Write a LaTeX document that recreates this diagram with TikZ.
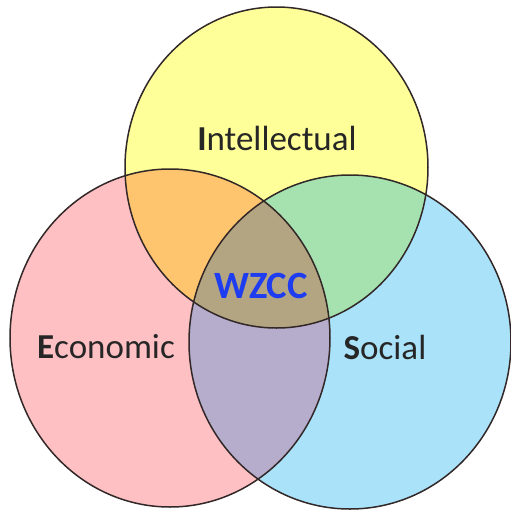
\documentclass[tikz,border=0pt]{standalone}
\usepackage{fontspec}
\setmainfont{Carlito}
\definecolor{intelfill}{RGB}{255,255,153}
\definecolor{econfill}{RGB}{255,192,196}
\definecolor{socfill}{RGB}{170,226,250}
\definecolor{iefill}{RGB}{255,196,110}
\definecolor{isfill}{RGB}{165,226,175}
\definecolor{esfill}{RGB}{182,172,204}
\definecolor{allfill}{RGB}{180,165,130}
\definecolor{ringcol}{RGB}{50,40,40}
\definecolor{wzccblue}{RGB}{30,60,240}
\tikzset{
  ring/.style={draw=ringcol, line width=0.75pt},
  vennname/.style={text=black!85, font=\fontsize{17.5}{20}\selectfont},
}
\newcommand{\intelshape}{(IC) ellipse [x radius=151.5, y radius=160.5]}
\newcommand{\econshape}{(EC) ellipse [x radius=160, y radius=169]}
\newcommand{\socshape}{(SC) ellipse [x radius=161, y radius=167]}
\begin{document}
\begin{tikzpicture}[x=0.5pt, y=-0.5pt]
    \useasboundingbox (0,0) rectangle (510,515);
    \coordinate (IC) at (276.5,167.5);
    \coordinate (EC) at (170,338);
    \coordinate (SC) at (350,342);

    % plain areas
    \fill[intelfill] \intelshape;
    \fill[econfill] \econshape;
    \fill[socfill] \socshape;
    % overlaps
    \begin{scope}
      \clip \intelshape;
      \fill[iefill] \econshape;
    \end{scope}
    \begin{scope}
      \clip \intelshape;
      \fill[isfill] \socshape;
    \end{scope}
    \begin{scope}
      \clip \econshape;
      \fill[esfill] \socshape;
    \end{scope}
    \begin{scope}
      \clip \intelshape;
      \clip \econshape;
      \fill[allfill] \socshape;
    \end{scope}
    % rings
    \draw[ring] \intelshape;
    \draw[ring] \econshape;
    \draw[ring] \socshape;

    \node[vennname] (intel) at (277,138) {\textbf{I}ntellectual};
    \node[vennname] (econ) at (106,347) {\textbf{E}conomic};
    \node[vennname] (social) at (385,347) {\textbf{S}ocial};
    \node[text=wzccblue, font=\fontsize{19.3}{22}\selectfont\bfseries] (wzcc) at (261,286) {WZCC};
\end{tikzpicture}
\end{document}
